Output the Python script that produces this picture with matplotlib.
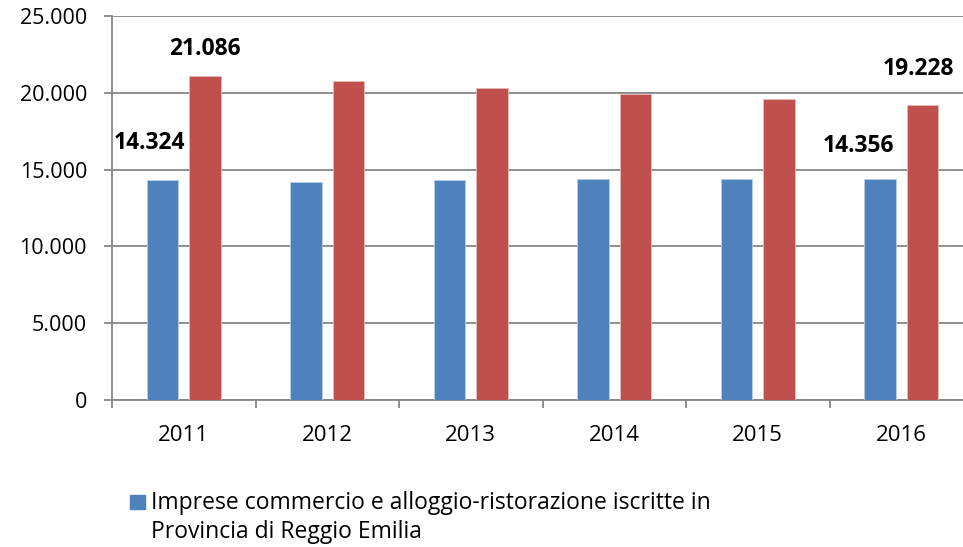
import numpy as np
import matplotlib.pyplot as plt
from matplotlib.patches import Rectangle

years = ['2011', '2012', '2013', '2014', '2015', '2016']
imprese = [14324, 14220, 14340, 14370, 14380, 14356]
altra = [21086, 20770, 20290, 19920, 19580, 19228]
legend_lines = ['Imprese commercio e alloggio-ristorazione iscritte in',
                'Provincia di Reggio Emilia']

blue = '#4f81bd'
red = '#c0504d'
grid = '#868686'

plt.rcParams['font.family'] = ['Open Sans', 'DejaVu Sans']

fig = plt.figure(figsize=(9.63, 5.47), dpi=100)
ax = fig.add_axes([112 / 963, 147 / 547, 861 / 963, 384 / 547])

x = np.arange(len(years))
w = 0.22
off = 0.148
ax.bar(x - off, imprese, w, color=blue, edgecolor='#b9cde5', linewidth=0.6, zorder=3)
ax.bar(x + off, altra, w, color=red, edgecolor='#e6b9b8', linewidth=0.6, zorder=3)

ax.set_xlim(-0.5, len(years) - 0.5)
ax.set_ylim(0, 25000)
yt = np.arange(0, 25001, 5000)
ax.set_yticks(yt)
ax.set_yticklabels(['0' if v == 0 else f'{v:,}'.replace(',', '.') for v in yt])
ax.set_xticks(x)
ax.set_xticklabels(years)
ax.set_xticks(np.arange(-0.5, len(years)), minor=True)

ax.grid(axis='y', color=grid, linewidth=1.3, zorder=0)
for s in ['top', 'right']:
    ax.spines[s].set_visible(False)
for s in ['left', 'bottom']:
    ax.spines[s].set_color(grid)
    ax.spines[s].set_linewidth(1.3)
ax.tick_params(axis='y', length=6, width=1.3, color=grid, pad=12, labelsize=15.5)
ax.tick_params(axis='x', which='major', length=0, pad=18, labelsize=16)
ax.tick_params(axis='x', which='minor', length=6, width=1.3, color=grid)

# etichette dei valori (solo primo e ultimo anno)
lab = dict(fontsize=16.5, fontweight='bold', ha='center', va='center')
ax.text(x[0] - 0.24, imprese[0] + 2400, f'{imprese[0]:,}'.replace(',', '.'), **lab)
ax.text(x[0] + 0.15, altra[0] + 1780, f'{altra[0]:,}'.replace(',', '.'), **lab)
ax.text(x[-1] - 0.3, imprese[-1] + 2200, f'{imprese[-1]:,}'.replace(',', '.'), **lab)
ax.text(x[-1] + 0.12, altra[-1] + 2300, f'{altra[-1]:,}'.replace(',', '.'), **lab)

# legenda (la seconda voce è tagliata nell'immagine originale)
fig.patches.append(Rectangle((130 / 963, 1 - 509 / 547), 15 / 963, 14 / 547,
                             transform=fig.transFigure, color=blue))
fig.text(151 / 963, 1 - 509 / 547, legend_lines[0], fontsize=16.5, va='baseline')
fig.text(151 / 963, 1 - 538 / 547, legend_lines[1], fontsize=16.5, va='baseline')

fig.savefig('out.png', dpi=100)
